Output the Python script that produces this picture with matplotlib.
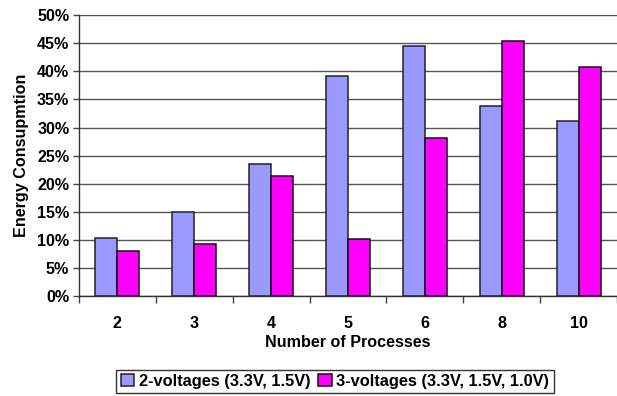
import numpy as np
import matplotlib.pyplot as plt
from matplotlib.ticker import FixedLocator, PercentFormatter

plt.rcParams['font.family'] = ['Liberation Sans', 'DejaVu Sans']
plt.rcParams['font.weight'] = 'bold'

processes = ['2', '3', '4', '5', '6', '8', '10']
two_volt = [10.4, 14.9, 23.6, 39.1, 44.5, 33.9, 31.2]
three_volt = [8.0, 9.35, 21.3, 10.1, 28.1, 45.4, 40.8]
series_names = ['2-voltages (3.3V, 1.5V)', '3-voltages (3.3V, 1.5V, 1.0V)']

fs = 11.6

fig = plt.figure(figsize=(6.17, 3.96), dpi=100)
ax = fig.add_axes([0.128, 0.252, 0.872, 0.71])

x = np.arange(len(processes))
w = 0.286
ax.bar(x - w / 2, two_volt, w, color='#9999FF', edgecolor='#222222', linewidth=1.1,
       label=series_names[0], zorder=3)
ax.bar(x + w / 2, three_volt, w, color='#FF00FF', edgecolor='#111111', linewidth=1.1,
       label=series_names[1], zorder=3)

ax.set_xlim(-0.5, len(processes) - 0.5)
ax.set_ylim(0, 50)
ax.set_yticks(np.arange(0, 51, 5))
ax.yaxis.set_major_formatter(PercentFormatter(decimals=0))
ax.yaxis.grid(True, color='#555555', linewidth=1.0, zorder=0)

# labels at category centres, tick marks between categories
ax.xaxis.set_major_locator(FixedLocator(np.arange(-0.5, len(processes), 1.0)))
ax.xaxis.set_minor_locator(FixedLocator(x))
ax.set_xticklabels([])
ax.set_xticklabels(processes, minor=True)
ax.tick_params(axis='x', which='major', length=5, width=1, color='#444444')
ax.tick_params(axis='x', which='minor', length=0, pad=14, labelsize=fs)
ax.tick_params(axis='y', length=4, width=1, color='#444444', labelsize=fs, pad=3)
for lab in ax.get_xticklabels(minor=True) + ax.get_yticklabels():
    lab.set_fontweight('bold')

for s in ['top', 'right']:
    ax.spines[s].set_visible(False)
for s in ['left', 'bottom']:
    ax.spines[s].set_color('#333333')
    ax.spines[s].set_linewidth(1.0)

ax.set_xlabel('Number of Processes', fontsize=fs, fontweight='bold', labelpad=3)
ax.set_ylabel('Energy Consupmtion', fontsize=fs, fontweight='bold', labelpad=6)

leg = fig.legend(loc='center', bbox_to_anchor=(0.543, 0.037), ncol=2,
                 prop={'size': 11.8, 'weight': 'bold'},
                 frameon=True, fancybox=False, edgecolor='black', handlelength=0.8,
                 handleheight=0.8, handletextpad=0.3, columnspacing=0.5,
                 borderpad=0.25, borderaxespad=0)
leg.get_frame().set_linewidth(1.0)

fig.savefig('out.png', dpi=100)
